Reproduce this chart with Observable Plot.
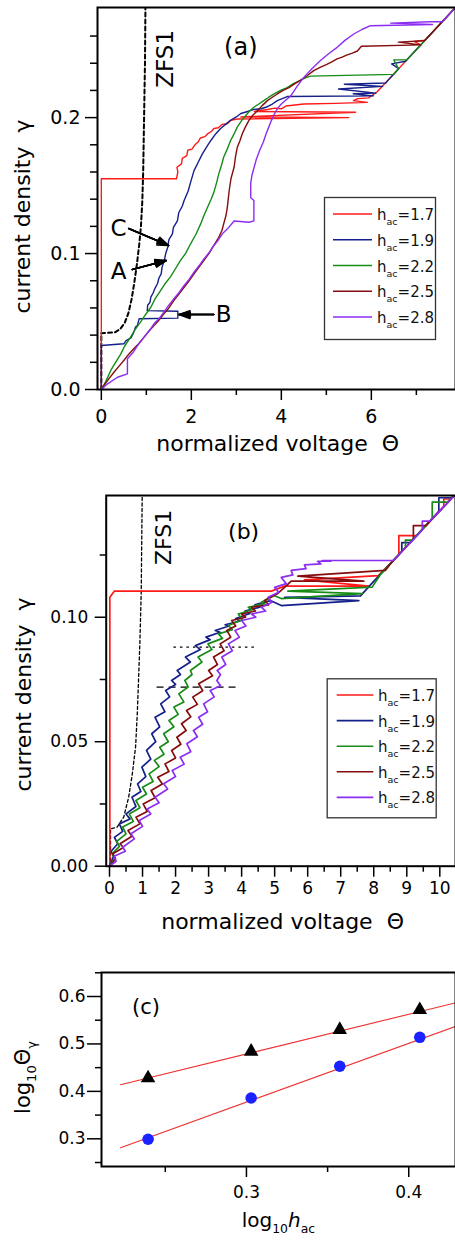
<!DOCTYPE html>
<html><head><meta charset="utf-8">
<script src="https://cdn.jsdelivr.net/npm/d3@7"></script>
<script src="https://cdn.jsdelivr.net/npm/@observablehq/plot@0.6"></script>
<style>
html,body{margin:0;padding:0;background:#fff;overflow:hidden;}
#wrap{position:relative;width:455px;height:1240px;overflow:hidden;font-family:"DejaVu Sans";}
.panel{position:absolute;left:0;width:455px;}
</style></head>
<body><div id="wrap">
<div class="panel" id="pa" style="top:0"></div>
<div class="panel" id="pb" style="top:460px"></div>
<div class="panel" id="pc" style="top:950px"></div>
</div>
<script>
// ---------- shared ----------
const hacLabels = ["1.7", "1.9", "2.2", "2.5", "2.8"];
const curveColors = ["#ff1a1a", "#15208a", "#168c16", "#840c0c", "#8c2ef2"];

// ---------- panel (a) data : [theta, gamma] ----------
const aRed = [[0,0],[0,0.155],[1.67,0.155],[1.7,0.16],[1.68,0.1635],[1.78,0.166],[1.8,0.17],[1.9,0.172],[1.92,0.176],[2.02,0.177],[2.08,0.18],[2.15,0.182],[2.2,0.185],[2.3,0.186],[2.36,0.188],[2.45,0.19],[2.5,0.192],[2.6,0.1925],[2.68,0.195],[2.8,0.1955],[2.88,0.198],[3.02,0.199],[5.5,0.2],[3.1,0.2005],[5.65,0.204],[3.4,0.2045],[3.7,0.206],[3.85,0.207],[4.0,0.2065],[4.1,0.2085],[4.5,0.21],[5.2,0.2105],[5.91,0.2112],[5.6,0.2125],[5.7,0.214],[5.94,0.2145],[6.13,0.219],[7.1,0.2535],[6.95,0.256],[7.2,0.257],[7.87,0.281]];
const aBlue = [[0,0],[0,0.0324],[0.5,0.0336],[0.55,0.036],[0.66,0.038],[0.72,0.042],[0.76,0.046],[0.8,0.047],[0.84,0.052],[1.7,0.0525],[1.7,0.0576],[1.02,0.058],[1.03,0.062],[1.08,0.064],[1.1,0.068],[1.15,0.071],[1.2,0.075],[1.25,0.078],[1.28,0.082],[1.33,0.085],[1.35,0.09],[1.4,0.095],[1.43,0.1],[1.48,0.105],[1.5,0.11],[1.58,0.1145],[1.6,0.119],[1.69,0.124],[1.72,0.13],[1.8,0.135],[1.84,0.139],[1.93,0.146],[1.98,0.152],[2.06,0.161],[2.15,0.167],[2.24,0.173],[2.33,0.178],[2.43,0.183],[2.54,0.188],[2.65,0.192],[2.76,0.195],[2.87,0.198],[3.0,0.2005],[3.1,0.203],[3.25,0.2045],[3.39,0.206],[3.55,0.2065],[3.69,0.208],[3.8,0.21],[3.91,0.2125],[4.13,0.2155],[6.05,0.216],[5.6,0.2175],[6.1,0.218],[5.27,0.221],[6.25,0.223],[5.4,0.2245],[6.32,0.2255],[6.36,0.227],[6.61,0.236],[6.45,0.2395],[6.76,0.2415],[7.87,0.281]];
const aGreen = [[0,0],[0.1,0.006],[0.21,0.014],[0.3,0.019],[0.43,0.026],[0.52,0.032],[0.65,0.0385],[0.75,0.044],[0.87,0.0495],[0.98,0.055],[1.1,0.0605],[1.2,0.067],[1.32,0.073],[1.42,0.078],[1.54,0.083],[1.65,0.089],[1.76,0.095],[1.87,0.1],[1.98,0.107],[2.1,0.114],[2.21,0.122],[2.28,0.128],[2.36,0.134],[2.44,0.14],[2.5,0.145],[2.56,0.152],[2.61,0.1586],[2.67,0.165],[2.72,0.171],[2.8,0.177],[2.87,0.183],[2.95,0.188],[3.02,0.193],[3.12,0.198],[3.21,0.2015],[3.3,0.205],[3.39,0.2076],[3.5,0.21],[3.61,0.2125],[3.72,0.215],[3.84,0.2174],[3.98,0.22],[4.13,0.222],[4.27,0.225],[4.4,0.227],[4.52,0.229],[4.65,0.2305],[6.49,0.2318],[6.6,0.236],[6.5,0.2425],[6.79,0.2425],[7.87,0.281]];
const aBrown = [[0,0],[0.06,0.003],[0.17,0.008],[0.28,0.0127],[0.39,0.017],[0.5,0.0213],[0.61,0.026],[0.72,0.03],[0.84,0.034],[0.95,0.0385],[1.06,0.043],[1.17,0.047],[1.28,0.051],[1.39,0.0556],[1.5,0.06],[1.61,0.0654],[1.72,0.07],[1.84,0.0752],[1.95,0.08],[2.06,0.085],[2.17,0.09],[2.28,0.095],[2.39,0.1],[2.5,0.106],[2.61,0.112],[2.68,0.117],[2.72,0.122],[2.77,0.128],[2.8,0.134],[2.84,0.146],[2.88,0.155],[2.95,0.1635],[2.98,0.171],[3.02,0.178],[3.08,0.183],[3.13,0.188],[3.2,0.193],[3.28,0.198],[3.37,0.202],[3.47,0.205],[3.58,0.209],[3.69,0.2125],[3.8,0.215],[3.91,0.2174],[4.04,0.22],[4.17,0.222],[4.3,0.225],[4.45,0.228],[4.58,0.231],[4.72,0.2346],[4.86,0.237],[5.0,0.239],[5.12,0.241],[5.24,0.2432],[5.35,0.2445],[5.45,0.246],[5.58,0.2475],[5.69,0.249],[5.78,0.2525],[7.1,0.2535],[6.6,0.2555],[7.18,0.2565],[7.87,0.281]];
const aPurple = [[0,0],[0.13,0.004],[0.36,0.009],[0.58,0.0115],[0.58,0.0226],[0.7,0.027],[0.82,0.033],[0.95,0.0385],[1.06,0.043],[1.17,0.0483],[1.28,0.052],[1.39,0.0569],[1.5,0.062],[1.61,0.0667],[1.72,0.071],[1.84,0.0765],[1.95,0.081],[2.06,0.0863],[2.17,0.091],[2.28,0.0961],[2.38,0.1],[2.47,0.1046],[2.6,0.11],[2.7,0.115],[2.8,0.118],[2.95,0.124],[3.28,0.123],[3.39,0.124],[3.39,0.139],[3.32,0.141],[3.32,0.152],[3.35,0.158],[3.4,0.164],[3.45,0.17],[3.52,0.176],[3.6,0.182],[3.66,0.188],[3.72,0.193],[3.78,0.198],[3.85,0.203],[3.92,0.207],[4.0,0.21],[4.1,0.213],[4.21,0.216],[4.35,0.223],[4.5,0.2296],[4.68,0.236],[4.87,0.242],[5.05,0.247],[5.24,0.2517],[5.42,0.257],[5.61,0.2615],[5.8,0.265],[5.98,0.2676],[7.36,0.2685],[6.43,0.2695],[7.3,0.2705],[7.58,0.2705],[7.87,0.281]];
const aZfs = [[0,0],[0,0.0414],[0.3,0.042],[0.42,0.0445],[0.52,0.049],[0.6,0.056],[0.67,0.066],[0.73,0.078],[0.79,0.092],[0.84,0.106],[0.88,0.12],[0.91,0.138],[0.93,0.16],[0.95,0.2],[0.97,0.24],[0.98,0.281]];
const aLetters = [{t:"C", x:0.384, y:0.1184},{t:"A", x:0.384, y:0.0868},{t:"B", x:2.72, y:0.0551}];
const aArrows = [{x1:0.607,y1:0.1184,x2:1.496,y2:0.1059},{x1:0.689,y1:0.0882,x2:1.444,y2:0.0949},{x1:2.5,y1:0.0551,x2:1.724,y2:0.0551}];
const aXDomain = [-0.085, 7.87];
const aYDomain = [0, 0.281];
const aXTicks = [0, 2, 4, 6];
const aXMinor = [1, 3, 5, 7];
const aYTicks = [0, 0.1, 0.2];
const aYMinor = [0.02,0.04,0.06,0.08,0.12,0.14,0.16,0.18,0.22,0.24,0.26];

// ---------- panel (b) data ----------
const bRed = [[0.01,0],[0.01,0.108],[0.15,0.1105],[4.9,0.1105],[5.3,0.1125],[7.85,0.1125],[5.9,0.115],[8.14,0.1167],[8.76,0.1251],[8.76,0.1328],[9.3,0.1328],[10.12,0.1446],[10.12,0.1475],[10.33,0.1475],[10.6,0.151]];
const bBlue = [[0,0],[0.12,0.004],[0.05,0.006],[0.25,0.009],[0.15,0.0116],[0.4,0.014],[0.3,0.017],[0.62,0.019],[0.5,0.021],[0.8,0.024],[0.68,0.0277],[0.95,0.03],[0.85,0.0331],[1.1,0.036],[0.98,0.0398],[1.25,0.043],[1.12,0.0465],[1.4,0.05],[1.28,0.0532],[1.52,0.056],[1.38,0.0598],[1.68,0.062],[1.55,0.0652],[1.82,0.068],[1.7,0.0706],[2.0,0.073],[1.88,0.0746],[2.15,0.077],[2.05,0.0786],[2.45,0.082],[2.3,0.084],[2.75,0.087],[2.6,0.0886],[3.05,0.091],[2.92,0.092],[3.35,0.094],[3.2,0.0947],[3.62,0.0965],[3.5,0.097],[3.95,0.0985],[3.82,0.0995],[4.25,0.1015],[4.1,0.1025],[4.55,0.104],[4.4,0.105],[4.87,0.1067],[5.2,0.1047],[7.55,0.1067],[5.3,0.108],[7.6,0.1086],[7.9,0.113],[8.85,0.1265],[8.85,0.13],[9.1,0.13],[9.97,0.1425],[9.97,0.148],[10.36,0.148],[10.6,0.151]];
const bGreen = [[0,0],[0.15,0.003],[0.08,0.005],[0.3,0.008],[0.22,0.01],[0.5,0.013],[0.4,0.0157],[0.72,0.018],[0.6,0.021],[0.92,0.0235],[0.8,0.0264],[1.12,0.029],[1.0,0.0317],[1.32,0.034],[1.2,0.0371],[1.5,0.04],[1.36,0.0425],[1.65,0.045],[1.52,0.0478],[1.78,0.05],[1.64,0.0532],[1.95,0.056],[1.8,0.0585],[2.08,0.061],[1.95,0.0639],[2.25,0.066],[2.1,0.0692],[2.38,0.072],[2.28,0.0746],[2.5,0.077],[2.45,0.0786],[2.8,0.082],[2.68,0.084],[3.1,0.087],[2.98,0.0893],[3.42,0.0915],[3.3,0.0933],[3.72,0.095],[3.6,0.0967],[4.02,0.099],[3.9,0.1013],[4.32,0.103],[4.2,0.104],[4.7,0.1055],[4.6,0.106],[4.97,0.1087],[5.2,0.1075],[7.65,0.1095],[5.4,0.1105],[7.95,0.1121],[8.2,0.1171],[8.96,0.128],[8.96,0.131],[9.17,0.131],[9.77,0.1396],[9.77,0.1462],[10.23,0.1462],[10.6,0.151]];
const bBrown = [[0,0],[0.18,0.003],[0.1,0.005],[0.42,0.0075],[0.32,0.009],[0.68,0.012],[0.56,0.0143],[0.92,0.017],[0.8,0.0197],[1.14,0.022],[1.02,0.025],[1.38,0.0275],[1.26,0.0304],[1.6,0.033],[1.46,0.0357],[1.8,0.038],[1.68,0.0411],[2.0,0.0435],[1.88,0.0465],[2.16,0.049],[2.04,0.0518],[2.32,0.0545],[2.18,0.0572],[2.46,0.06],[2.33,0.0625],[2.66,0.065],[2.52,0.0679],[2.82,0.0705],[2.7,0.0733],[2.92,0.075],[3.12,0.0765],[3.0,0.0786],[3.27,0.081],[3.15,0.084],[3.47,0.0865],[3.35,0.0893],[3.67,0.092],[3.55,0.0947],[3.82,0.0965],[3.7,0.0987],[4.12,0.1],[4.0,0.1013],[4.42,0.1025],[4.3,0.104],[4.82,0.105],[4.7,0.1067],[5.08,0.1094],[5.3,0.112],[5.5,0.1145],[7.7,0.1145],[5.7,0.1165],[8.35,0.1188],[8.5,0.1214],[9.2,0.1314],[9.2,0.1368],[9.58,0.1368],[10.6,0.151]];
const bPurple = [[0,0],[0.2,0.002],[0.14,0.004],[0.48,0.006],[0.4,0.0076],[0.75,0.011],[0.65,0.013],[1.0,0.016],[0.9,0.0184],[1.25,0.021],[1.14,0.023],[1.5,0.0255],[1.38,0.0277],[1.76,0.031],[1.64,0.0331],[2.0,0.036],[1.9,0.0384],[2.26,0.041],[2.14,0.0438],[2.46,0.046],[2.34,0.0492],[2.66,0.052],[2.54,0.0545],[2.82,0.057],[2.7,0.0598],[2.97,0.062],[2.85,0.0652],[3.17,0.068],[3.05,0.0706],[3.36,0.0725],[3.25,0.0746],[3.36,0.077],[3.26,0.0786],[3.52,0.081],[3.4,0.084],[3.72,0.0865],[3.6,0.0893],[3.93,0.092],[3.8,0.0947],[4.13,0.0965],[4.0,0.0987],[4.43,0.1],[4.3,0.1013],[4.73,0.1025],[4.6,0.104],[4.92,0.106],[4.8,0.108],[5.12,0.11],[5.0,0.112],[5.35,0.1135],[5.2,0.116],[5.55,0.117],[5.5,0.1188],[5.95,0.1195],[5.9,0.121],[6.4,0.1214],[6.3,0.1225],[6.7,0.1225],[6.44,0.1228],[8.6,0.1228],[8.8,0.1257],[9.47,0.135],[9.47,0.1386],[9.7,0.1386],[10.6,0.151]];
const bZfs = [[0.03,0],[0.03,0.015],[0.23,0.0157],[0.43,0.0197],[0.58,0.0277],[0.69,0.037],[0.79,0.048],[0.84,0.061],[0.88,0.075],[0.92,0.09],[0.96,0.11],[0.99,0.149]];
const bRefDotted = [{y:0.088, x1:1.95, x2:4.42}];
const bRefDashed = [{y:0.0719, x1:1.44, x2:3.87}];
const bXDomain = [-0.1, 10.475];
const bYDomain = [0, 0.1489];
const bXTicks = [0,1,2,3,4,5,6,7,8,9,10];
const bXMinor = [0.5,1.5,2.5,3.5,4.5,5.5,6.5,7.5,8.5,9.5];
const bYTicks = [0, 0.05, 0.1];
const bYMinor = [0.025, 0.075, 0.125];

// ---------- panel (c) data ----------
const cLogH = [0.2394, 0.3029, 0.3575, 0.4068];
const cTriangles = [0.428, 0.484, 0.530, 0.572];
const cCircles = [0.299, 0.386, 0.453, 0.514];
const cFitTri = [[0.2224, 0.414], [0.4288, 0.5866]];
const cFitCirc = [[0.2224, 0.281], [0.4288, 0.537]];
const cXDomain = [0.2107, 0.4288];
const cYDomain = [0.2416, 0.6506];
const cXTicks = [0.3, 0.4];
const cXMinor = [0.25, 0.35];
const cYTicks = [0.3, 0.4, 0.5, 0.6];
const cYMinor = [0.25, 0.35, 0.45, 0.55, 0.65];

// ---------- helpers ----------
const FONT = "DejaVu Sans";
const px = d => d[0], py = d => d[1];
const curve = (data, color, w) => Plot.line(data, {x: px, y: py, stroke: color, strokeWidth: w, clip: true});
function axes(xt, xm, yt, ym, o) {
  return [
    Plot.axisX(xt, {tickSize: o.xts, tickPadding: o.xtp, fontSize: o.fs, tickFormat: o.xf, label: null, strokeWidth: 1.5}),
    Plot.axisX(xm, {tickSize: o.xms, tickFormat: () => "", label: null, strokeWidth: 1.5}),
    Plot.axisY(yt, {tickSize: o.yts, tickPadding: o.ytp, fontSize: o.fs, tickFormat: o.yf, label: null, strokeWidth: 1.5}),
    Plot.axisY(ym, {tickSize: o.yms, tickFormat: () => "", label: null, strokeWidth: 1.5})
  ];
}
const xTitle = (label, xVal, yMin, dy, fs) =>
  Plot.text([label], {x: () => xVal, y: () => yMin, dy, fontSize: fs, textAnchor: "middle", lineAnchor: "middle"});
const headAngles = [40, 30, 20, 10];
function subify(root) {
  const ns = "http://www.w3.org/2000/svg";
  root.querySelectorAll("text").forEach(t => {
    const s = t.textContent;
    if (!/[_~]\{/.test(s)) return;
    const fs = parseFloat(getComputedStyle(t).fontSize);
    const toks = s.match(/(_\{[^}]*\}|~\{[^}]*\}|[^_~]+)/g);
    t.textContent = "";
    let shift = 0;
    toks.forEach(tok => {
      const ts = document.createElementNS(ns, "tspan");
      let txt = tok, sub = false, ital = false;
      if (tok.startsWith("_{")) { sub = true; txt = tok.slice(2, -1); }
      else if (tok.startsWith("~{")) { ital = true; txt = tok.slice(2, -1); }
      const target = sub ? fs * 0.3 : 0;
      if (target !== shift) { ts.setAttribute("dy", target - shift); shift = target; }
      if (sub) ts.setAttribute("font-size", fs * 0.62);
      if (ital) ts.setAttribute("font-style", "italic");
      ts.textContent = txt;
      t.appendChild(ts);
    });
  });
}

// ---------- panel (a) ----------
const aCurves = [aRed, aBlue, aGreen, aBrown, aPurple];
const plotA = Plot.plot({
  width: 455, height: 460,
  marginTop: 7, marginBottom: 71, marginLeft: 97, marginRight: 0,
  style: {fontFamily: FONT, background: "transparent", color: "black"},
  x: {domain: aXDomain},
  y: {domain: aYDomain},
  marks: [
    Plot.line(aZfs, {x: px, y: py, stroke: "black", strokeWidth: 2, strokeDasharray: "4,3", clip: true}),
    ...aCurves.map((c, i) => curve(c, curveColors[i], 1.4)),
    ...axes(aXTicks, aXMinor, aYTicks, aYMinor, {xts: 11, xtp: 9, xms: 6, yts: 12, ytp: 5, yms: 7, fs: 19, xf: d3.format("d"), yf: d3.format(".1f")}),
    Plot.frame({stroke: "black", strokeWidth: 2}),
    Plot.text(["(a)"], {x: () => 3.1, y: () => 0.2515, fontSize: 24, lineAnchor: "middle"}),
    Plot.text(["ZFS1"], {x: () => 1.43, y: () => 0.2432, fontSize: 23, rotate: -90, lineAnchor: "middle"}),
    Plot.text(aLetters, {x: "x", y: "y", text: "t", fontSize: 23, lineAnchor: "middle"}),
    ...headAngles.map(a => Plot.arrow(aArrows, {x1: "x1", y1: "y1", x2: "x2", y2: "y2", stroke: "black", strokeWidth: 1.5, headLength: 12, headAngle: a})),
    xTitle("normalized voltage  Θ", 3.92, aYDomain[0], 54, 22)
  ]
});
document.getElementById("pa").append(plotA);

// ---------- panel (b) ----------
const bCurves = [bRed, bBlue, bGreen, bBrown, bPurple];
const plotB = Plot.plot({
  width: 455, height: 490,
  marginTop: 35, marginBottom: 84.3, marginLeft: 105.7, marginRight: 0,
  style: {fontFamily: FONT, background: "transparent", color: "black"},
  x: {domain: bXDomain},
  y: {domain: bYDomain},
  marks: [
    Plot.line(bZfs, {x: px, y: py, stroke: "black", strokeWidth: 1.3, strokeDasharray: "3,2.5", clip: true}),
    Plot.ruleY(bRefDotted, {y: "y", x1: "x1", x2: "x2", stroke: "black", strokeWidth: 1.3, strokeDasharray: "2.5,4"}),
    Plot.ruleY(bRefDashed, {y: "y", x1: "x1", x2: "x2", stroke: "black", strokeWidth: 1.3, strokeDasharray: "7,5"}),
    ...bCurves.map((c, i) => curve(c, curveColors[i], 1.7)),
    ...axes(bXTicks, bXMinor, bYTicks, bYMinor, {xts: 11, xtp: 5, xms: 6, yts: 11, ytp: 7, yms: 6, fs: 17, xf: d3.format("d"), yf: d3.format(".2f")}),
    Plot.frame({stroke: "black", strokeWidth: 2}),
    Plot.text(["(b)"], {x: () => 4.06, y: () => 0.1344, fontSize: 22, lineAnchor: "middle"}),
    Plot.text(["ZFS1"], {x: () => 1.64, y: () => 0.1321, fontSize: 22, rotate: -90, lineAnchor: "middle"}),
    xTitle("normalized voltage  Θ", 5.24, bYDomain[0], 56, 22)
  ]
});
document.getElementById("pb").append(plotB);

// ---------- panel (c) ----------
const cTri = cLogH.map((x, i) => ({x, y: cTriangles[i]}));
const cCir = cLogH.map((x, i) => ({x, y: cCircles[i]}));
const plotC = Plot.plot({
  width: 455, height: 290,
  marginTop: 22, marginBottom: 74, marginLeft: 101, marginRight: 0,
  style: {fontFamily: FONT, background: "transparent", color: "black"},
  x: {domain: cXDomain},
  y: {domain: cYDomain},
  marks: [
    Plot.line(cFitTri, {x: px, y: py, stroke: "#ee3030", strokeWidth: 1.1}),
    Plot.line(cFitCirc, {x: px, y: py, stroke: "#ee3030", strokeWidth: 1.1}),
    Plot.dot(cTri, {x: "x", y: "y", symbol: "triangle", r: 5.4, fill: "black"}),
    Plot.dot(cCir, {x: "x", y: "y", symbol: "circle", r: 5.8, fill: "#1a22ff"}),
    ...axes(cXTicks, cXMinor, cYTicks, cYMinor, {xts: 11, xtp: 8, xms: 6, yts: 14, ytp: 2, yms: 6, fs: 17, xf: d3.format(".1f"), yf: d3.format(".1f")}),
    Plot.frame({stroke: "black", strokeWidth: 2}),
    Plot.text(["(c)"], {x: () => 0.2381, y: () => 0.5774, fontSize: 21, lineAnchor: "middle"}),
    xTitle("log_{10}~{h}_{ac}", 0.3197, cYDomain[0], 54, 20)
  ]
});
document.getElementById("pc").append(plotC);
subify(plotC);

// ---------- overlay: rotated axis titles and legends ----------
const overlay = d3.select("#wrap").append("svg")
  .attr("width", 455).attr("height", 1240)
  .attr("style", "position:absolute;left:0;top:0;pointer-events:none")
  .attr("font-family", FONT);
function yTitle(cx, cy, fs, parts) {
  const t = overlay.append("text")
    .attr("transform", `translate(${cx},${cy}) rotate(-90)`)
    .attr("text-anchor", "middle").attr("dy", "0.32em")
    .attr("font-size", fs).attr("fill", "black");
  let shift = 0;
  parts.forEach(p => {
    const target = p.sub ? fs * 0.3 : 0;
    const ts = t.append("tspan").text(p.t);
    if (target !== shift) { ts.attr("dy", target - shift); shift = target; }
    if (p.sub) ts.attr("font-size", fs * 0.62);
  });
  t.style("white-space", "pre");
}
yTitle(23, 216.5, 22, [{t: "current density  γ"}]);
yTitle(24, 694.5, 22, [{t: "current density  γ"}]);
yTitle(23, 1077.5, 21, [{t: "log"}, {t: "10", sub: true}, {t: "Θ"}, {t: "γ", sub: true}]);

function addLegend(b) {
  const g = overlay.append("g").attr("transform", `translate(${b.left},${b.top})`);
  g.append("rect").attr("x", 0.5).attr("y", 0.5).attr("width", b.w - 1).attr("height", b.h - 1)
    .attr("fill", "white").attr("stroke", "#333").attr("stroke-width", 1.3);
  hacLabels.forEach((lab, i) => {
    const y = b.row0 + i * b.dy;
    g.append("line").attr("x1", b.lx1).attr("x2", b.lx2).attr("y1", y).attr("y2", y)
      .attr("stroke", curveColors[i]).attr("stroke-width", 1.6);
    const t = g.append("text").attr("x", b.tx).attr("y", y + 6)
      .attr("font-size", 15).attr("fill", "#111");
    t.append("tspan").text("h");
    t.append("tspan").attr("font-size", 9.5).attr("dy", 5).text("ac");
    t.append("tspan").attr("dy", -5).text("=" + lab);
  });
}
addLegend({left: 324, top: 197, w: 112, h: 143, row0: 17, dy: 25.75, lx1: 9, lx2: 48, tx: 53});
addLegend({left: 326.7, top: 678.3, w: 110, h: 140, row0: 16.7, dy: 25.6, lx1: 10, lx2: 46.6, tx: 51.3});
</script>
</body></html>
